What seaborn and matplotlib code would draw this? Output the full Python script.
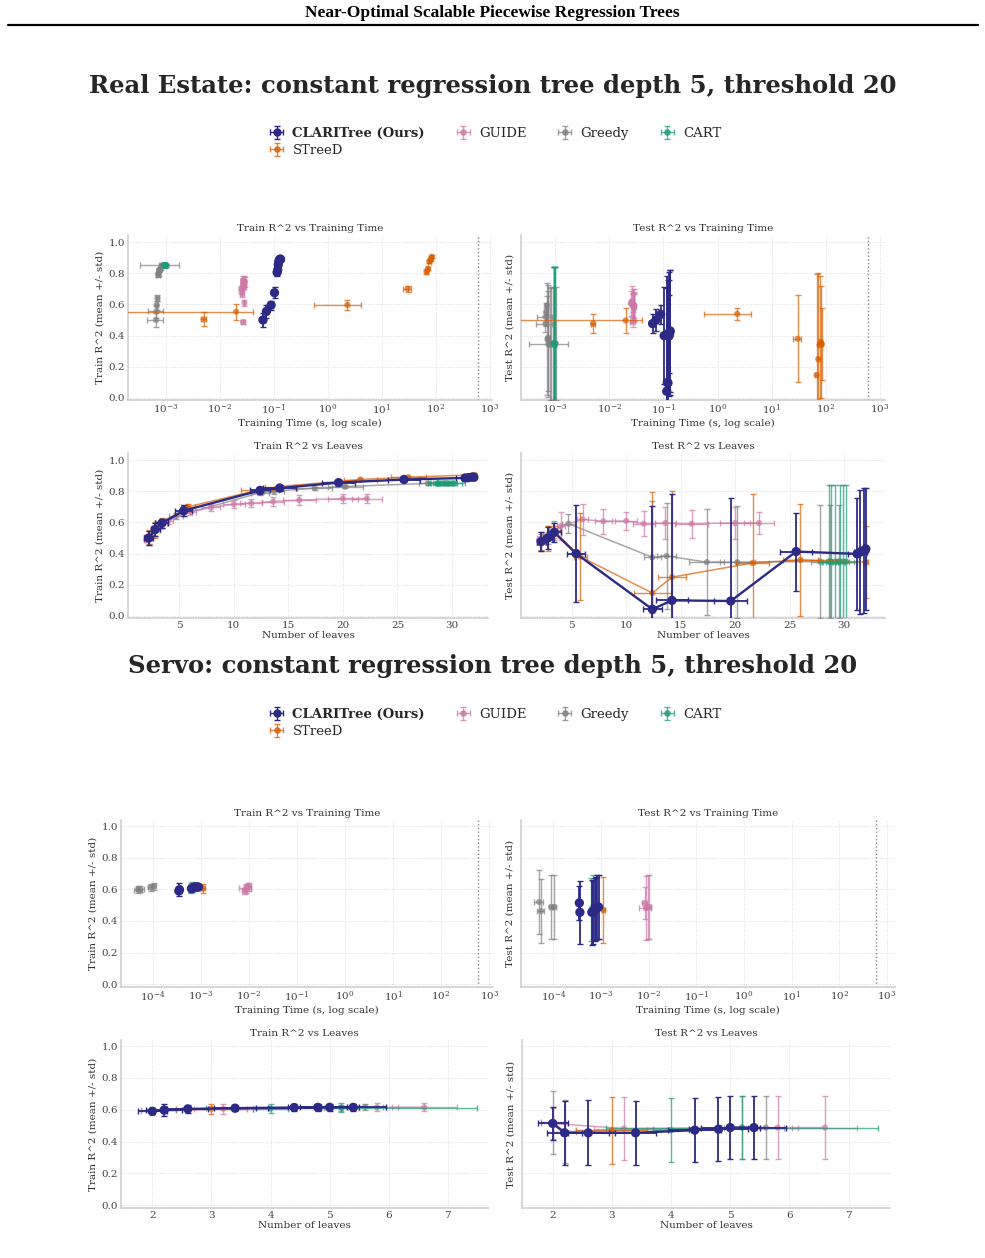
import numpy as np
import pandas as pd
import matplotlib.pyplot as plt
import seaborn as sns
from matplotlib.lines import Line2D

# ---- Real Estate data ----
re_clari_time = [0.063, 0.073, 0.089, 0.103, 0.115, 0.118, 0.121, 0.124, 0.127, 0.129, 0.131, 0.133]
re_clari_time_err = [0.004, 0.004, 0.004, 0.004, 0.004, 0.004, 0.004, 0.004, 0.004, 0.004, 0.004, 0.004]
re_clari_leaves = [2.2, 2.8, 3.4, 5.4, 12.4, 14.2, 19.6, 25.6, 31.2, 31.5, 31.8, 32.0]
re_clari_leaves_err = [0.4, 0.4, 0.6, 0.8, 0.9, 1.5, 1.5, 1.5, 0.8, 0.6, 0.4, 0.2]
re_clari_train = [0.50, 0.555, 0.595, 0.675, 0.805, 0.82, 0.855, 0.875, 0.885, 0.887, 0.89, 0.89]
re_clari_train_err = [0.045, 0.04, 0.03, 0.035, 0.02, 0.02, 0.015, 0.012, 0.01, 0.01, 0.01, 0.01]
re_clari_test = [0.477, 0.50, 0.536, 0.40, 0.043, 0.10, 0.096, 0.413, 0.398, 0.41, 0.42, 0.43]
re_clari_test_err = [0.06, 0.07, 0.06, 0.31, 0.66, 0.68, 0.66, 0.25, 0.36, 0.40, 0.40, 0.39]

re_streed_time = [0.005, 0.020, 2.3, 30.0, 67.0, 72.0, 76.0, 80.0, 84.0]
re_streed_time_err = [0.0005, 0.021, 1.75, 5.0, 4.0, 4.0, 4.0, 5.0, 4.0]
re_streed_leaves = [2.2, 2.8, 3.4, 5.8, 12.4, 14.2, 21.6, 26.0, 32.0]
re_streed_leaves_err = [0.4, 0.4, 0.6, 0.6, 1.7, 1.3, 1.5, 1.6, 0.2]
re_streed_train = [0.504, 0.553, 0.596, 0.70, 0.81, 0.83, 0.875, 0.89, 0.905]
re_streed_train_err = [0.045, 0.05, 0.035, 0.02, 0.015, 0.012, 0.01, 0.01, 0.01]
re_streed_test = [0.476, 0.497, 0.539, 0.38, 0.147, 0.249, 0.34, 0.36, 0.345]
re_streed_test_err = [0.06, 0.08, 0.04, 0.28, 0.65, 0.55, 0.44, 0.36, 0.23]

re_guide_time = [0.027, 0.0285, 0.026, 0.025, 0.027, 0.028, 0.027, 0.029, 0.028, 0.027]
re_guide_time_err = [0.0025, 0.001, 0.002, 0.002, 0.002, 0.002, 0.002, 0.002, 0.002, 0.002]
re_guide_leaves = [2.0, 4.0, 6.0, 7.9, 10.0, 11.6, 13.6, 16.0, 20.0, 22.2]
re_guide_leaves_err = [0.2, 0.4, 0.5, 0.8, 1.0, 1.0, 1.0, 1.5, 1.4, 1.4]
re_guide_train = [0.487, 0.61, 0.668, 0.696, 0.717, 0.723, 0.734, 0.743, 0.753, 0.753]
re_guide_train_err = [0.01, 0.02, 0.02, 0.02, 0.025, 0.025, 0.03, 0.03, 0.03, 0.03]
re_guide_test = [0.486, 0.577, 0.619, 0.607, 0.609, 0.592, 0.596, 0.592, 0.596, 0.596]
re_guide_test_err = [0.03, 0.09, 0.10, 0.08, 0.06, 0.08, 0.10, 0.09, 0.10, 0.07]

re_greedy_time = [0.00066, 0.00067, 0.00068, 0.00070, 0.00072, 0.00074, 0.00075, 0.00080, 0.00103, 0.00090, 0.00085]
re_greedy_time_err = [0.00022, 0.0002, 0.00005, 0.00005, 0.00005, 0.00005, 0.00005, 0.00005, 0.0007, 0.0001, 0.0001]
re_greedy_leaves = [2.2, 2.8, 3.4, 4.7, 12.4, 13.7, 17.4, 20.2, 27.8, 28.7, 29.5]
re_greedy_leaves_err = [0.3, 0.4, 0.5, 0.6, 0.8, 0.9, 1.6, 1.6, 0.8, 0.6, 0.5]
re_greedy_train = [0.50, 0.555, 0.595, 0.64, 0.79, 0.80, 0.82, 0.83, 0.85, 0.85, 0.85]
re_greedy_train_err = [0.045, 0.04, 0.03, 0.02, 0.015, 0.015, 0.01, 0.01, 0.01, 0.01, 0.01]
re_greedy_test = [0.476, 0.52, 0.55, 0.592, 0.376, 0.385, 0.345, 0.345, 0.349, 0.349, 0.349]
re_greedy_test_err = [0.05, 0.06, 0.06, 0.06, 0.36, 0.34, 0.34, 0.36, 0.36, 0.36, 0.36]

re_cart_time = [0.00094, 0.00095, 0.00096, 0.00097, 0.00098, 0.00099]
re_cart_time_err = [0.00005, 0.00005, 0.00005, 0.00005, 0.00005, 0.00005]
re_cart_leaves = [28.6, 28.8, 29.2, 29.6, 29.9, 30.2]
re_cart_leaves_err = [0.8, 0.8, 0.9, 0.9, 1.0, 1.0]
re_cart_train = [0.85, 0.85, 0.85, 0.85, 0.85, 0.85]
re_cart_train_err = [0.01, 0.01, 0.01, 0.01, 0.01, 0.01]
re_cart_test = [0.349, 0.349, 0.349, 0.349, 0.349, 0.349]
re_cart_test_err = [0.49, 0.49, 0.49, 0.49, 0.49, 0.49]

# ---- Servo data ----
sv_clari_time = [3.5e-4, 3.6e-4, 6.4e-4, 6.9e-4, 7.3e-4, 7.8e-4, 8.3e-4, 8.9e-4]
sv_clari_time_err = [2e-5, 2e-5, 2e-5, 2e-5, 2e-5, 2e-5, 2e-5, 2e-5]
sv_clari_leaves = [2.0, 2.2, 2.6, 3.4, 4.4, 4.8, 5.0, 5.4]
sv_clari_leaves_err = [0.25, 0.3, 0.35, 0.35, 0.45, 0.5, 0.5, 0.55]
sv_clari_train = [0.59, 0.598, 0.605, 0.61, 0.614, 0.615, 0.615, 0.615]
sv_clari_train_err = [0.015, 0.04, 0.025, 0.02, 0.02, 0.02, 0.02, 0.02]
sv_clari_test = [0.514, 0.455, 0.455, 0.455, 0.472, 0.478, 0.488, 0.488]
sv_clari_test_err = [0.105, 0.2, 0.205, 0.2, 0.2, 0.2, 0.2, 0.2]

sv_streed_time = [1.12e-3]
sv_streed_time_err = [8e-5]
sv_streed_leaves = [3.0]
sv_streed_leaves_err = [0.6]
sv_streed_train = [0.606]
sv_streed_train_err = [0.03]
sv_streed_test = [0.47]
sv_streed_test_err = [0.21]

sv_guide_time = [8.2e-3, 8.8e-3, 9.5e-3, 1.0e-2]
sv_guide_time_err = [1e-3, 2.5e-3, 1.5e-3, 1e-3]
sv_guide_leaves = [2.0, 3.2, 5.8, 6.6]
sv_guide_leaves_err = [0.2, 0.5, 0.35, 0.55]
sv_guide_train = [0.59, 0.606, 0.615, 0.615]
sv_guide_train_err = [0.02, 0.03, 0.025, 0.025]
sv_guide_test = [0.514, 0.482, 0.488, 0.488]
sv_guide_test_err = [0.1, 0.2, 0.2, 0.2]

sv_greedy_time = [5.0e-5, 5.5e-5, 9.0e-5, 1.05e-4]
sv_greedy_time_err = [1e-5, 1e-5, 1e-5, 1e-5]
sv_greedy_leaves = [2.0, 2.2, 5.2, 5.6]
sv_greedy_leaves_err = [0.2, 0.2, 0.3, 0.3]
sv_greedy_train = [0.598, 0.60, 0.612, 0.618]
sv_greedy_train_err = [0.02, 0.02, 0.02, 0.02]
sv_greedy_test = [0.52, 0.463, 0.488, 0.488]
sv_greedy_test_err = [0.2, 0.2, 0.2, 0.2]

sv_cart_time = [6.3e-4, 6.7e-4]
sv_cart_time_err = [3e-5, 3e-5]
sv_cart_leaves = [4.0, 5.2]
sv_cart_leaves_err = [0.3, 2.3]
sv_cart_train = [0.607, 0.614]
sv_cart_train_err = [0.03, 0.03]
sv_cart_test = [0.472, 0.488]
sv_cart_test_err = [0.2, 0.2]

METHODS = ['Greedy', 'GUIDE', 'CART', 'STreeD', 'CLARITree (Ours)']
COLORS = {'CLARITree (Ours)': '#2c2a86', 'STreeD': '#d95f02', 'GUIDE': '#cc79a7',
          'Greedy': '#808080', 'CART': '#1b9e77'}
COLS = ['time', 'time_err', 'leaves', 'leaves_err', 'train', 'train_err', 'test', 'test_err']


def build(prefix):
    rows = []
    keys = {'Greedy': 'greedy', 'GUIDE': 'guide', 'CART': 'cart', 'STreeD': 'streed',
            'CLARITree (Ours)': 'clari'}
    g = globals()
    for m in METHODS:
        d = {c: g[f'{prefix}_{keys[m]}_{c}'] for c in COLS}
        part = pd.DataFrame(d)
        part['method'] = m
        rows.append(part)
    return pd.concat(rows, ignore_index=True)


sns.set_theme(style='whitegrid')
plt.rcParams['font.family'] = ['DejaVu Serif']
plt.rcParams['mathtext.fontset'] = 'dejavuserif'

W, H = 985, 1258
fig = plt.figure(figsize=(W / 100, H / 100), dpi=100)


def box(l, t, r, b):
    return [l / W, 1 - b / H, (r - l) / W, (b - t) / H]


def draw(ax, df, xcol, ycol, connect):
    for i, m in enumerate(METHODS):
        d = df[df.method == m].sort_values(xcol)
        ours = m == 'CLARITree (Ours)'
        c = COLORS[m]
        a = 1.0 if ours else 0.7
        z = 3 + i
        ax.errorbar(d[xcol], d[ycol], xerr=d[xcol + '_err'], yerr=d[ycol + '_err'],
                    fmt='none', ecolor=c, elinewidth=1.3 if ours else 1.0,
                    capsize=2.5, alpha=a, zorder=z)
        if connect:
            sns.lineplot(data=d, x=xcol, y=ycol, color=c, lw=1.7 if ours else 1.1,
                         alpha=a, sort=False, estimator=None, ax=ax, zorder=z)
        sns.scatterplot(data=d, x=xcol, y=ycol, color=c, s=45 if ours else 20,
                        alpha=a, edgecolor='none', ax=ax, zorder=z + 0.5)


def style(ax, title, xlabel, ylabel, show_y):
    ax.set_title(title, fontsize=7.5, color='#333333', pad=3)
    ax.set_xlabel(xlabel, fontsize=7.5, color='#333333', labelpad=1)
    ax.set_ylabel(ylabel, fontsize=7.5, color='#333333', labelpad=3)
    ax.set_yticks(np.arange(0, 1.01, 0.2))
    if not show_y:
        ax.set_yticklabels([])
    ax.tick_params(labelsize=7.5, colors='#444444', length=0, pad=2)
    ax.grid(True, linestyle=':', color='#dcdcdc', lw=0.7)
    sns.despine(ax=ax)
    for s in ['left', 'bottom']:
        ax.spines[s].set_color('#d0d0d0')
        ax.spines[s].set_linewidth(1.2)


def section(df, boxes, xl_time, xl_leaves, ylim, leaf_ticks):
    ax1 = fig.add_axes(box(*boxes[0]))
    ax2 = fig.add_axes(box(*boxes[1]))
    ax3 = fig.add_axes(box(*boxes[2]))
    ax4 = fig.add_axes(box(*boxes[3]))
    for ax, ycol, xl in [(ax1, 'train', xl_time[0]), (ax2, 'test', xl_time[1])]:
        ax.set_xscale('log')
        draw(ax, df, 'time', ycol, False)
        ax.axvline(600, color='#888888', ls=':', lw=1.0)
        ticks = [10.0 ** k for k in range(-5, 4) if xl[0] <= k <= xl[1]]
        ax.set_xticks(ticks)
        ax.xaxis.set_minor_locator(plt.NullLocator())
        ax.set_xlim(10 ** xl[0], 10 ** xl[1])
    for ax, ycol, xl in [(ax3, 'train', xl_leaves[0]), (ax4, 'test', xl_leaves[1])]:
        draw(ax, df, 'leaves', ycol, True)
        ax.set_xticks(leaf_ticks)
        ax.set_xlim(*xl)
    style(ax1, 'Train R^2 vs Training Time', 'Training Time (s, log scale)', 'Train R^2 (mean +/- std)', True)
    style(ax2, 'Test R^2 vs Training Time', 'Training Time (s, log scale)', 'Test R^2 (mean +/- std)', False)
    style(ax3, 'Train R^2 vs Leaves', 'Number of leaves', 'Train R^2 (mean +/- std)', True)
    style(ax4, 'Test R^2 vs Leaves', 'Number of leaves', 'Test R^2 (mean +/- std)', False)
    for ax in [ax1, ax2, ax3, ax4]:
        ax.set_ylim(*ylim)
    return ax3


def legend(ax, ytop):
    handles = []
    order = ['CLARITree (Ours)', 'STreeD', 'GUIDE', 'Greedy', 'CART']
    for m in order:
        ours = m == 'CLARITree (Ours)'
        h = ax.errorbar([np.nan], [np.nan], xerr=[0.1], yerr=[0.1], fmt='o',
                        color=COLORS[m], ms=5 if ours else 3.8, capsize=2,
                        elinewidth=1.0, alpha=1.0 if ours else 0.75)
        handles.append(h)
    leg = fig.legend(handles, order, loc='upper center', bbox_to_anchor=(0.502, 1 - ytop / H),
                     ncol=4, frameon=False, fontsize=9.5, columnspacing=2.2,
                     handletextpad=0.5, handlelength=1.4, labelspacing=0.3)
    leg.get_texts()[0].set_fontweight('bold')


# header
fig.text(0.5, 1 - 13 / H, 'Near-Optimal Scalable Piecewise Regression Trees', ha='center',
         va='center', fontsize=12.5, fontweight='bold', family=['Liberation Serif'], color='black')
fig.add_artist(Line2D([8 / W, 978 / W], [1 - 25 / H, 1 - 25 / H], color='black', lw=1.6))

# Real Estate
re_df = build('re')
fig.text(0.5, 1 - 86 / H, 'Real Estate: constant regression tree depth 5, threshold 20',
         ha='center', va='center', fontsize=17.5, fontweight='bold', color='#262626')
ax_re = section(re_df,
                [(128, 235, 492, 400), (521, 235, 885, 400), (128, 453, 488, 618), (521, 453, 885, 618)],
                [(-3.70, 3.04), (-3.63, 3.09)], [(0.3, 33.3), (0.34, 33.76)],
                (-0.013, 1.045), [5, 10, 15, 20, 25, 30])
legend(ax_re, 115)

# Servo
sv_df = build('sv')
fig.text(0.5, 1 - 666 / H, 'Servo: constant regression tree depth 5, threshold 20',
         ha='center', va='center', fontsize=17.5, fontweight='bold', color='#262626')
ax_sv = section(sv_df,
                [(121, 820, 493, 987), (521, 820, 895, 987), (121, 1040, 488, 1208), (522, 1040, 890, 1208)],
                [(-4.66, 3.08), (-4.68, 3.17)], [(1.47, 7.68), (1.48, 7.70)],
                (-0.017, 1.038), [2, 3, 4, 5, 6, 7])
legend(ax_sv, 696)

fig.savefig('out.png', dpi=100)
